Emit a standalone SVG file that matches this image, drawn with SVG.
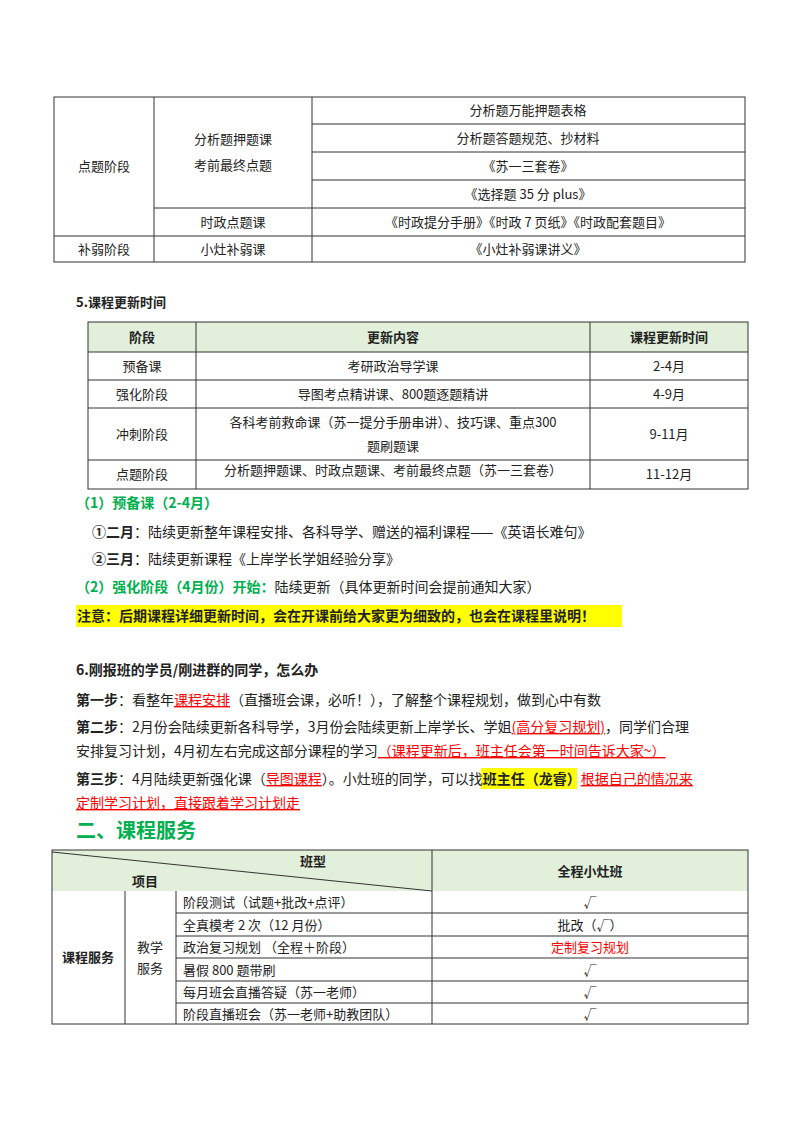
<svg xmlns="http://www.w3.org/2000/svg" width="800" height="1132" viewBox="0 0 800 1132">
<style>
text{font-family:"Noto Sans CJK SC","Liberation Sans",sans-serif;font-size:13px;fill:#222}
.p{font-size:14px}
.c{text-anchor:middle}
.b{font-weight:bold}
.g{fill:#00b050;font-weight:bold}
.r{fill:#ff0000}
.u{text-decoration:underline}
.ln{stroke:#333;stroke-width:1;fill:none}
.hd{fill:#e2efda}
</style>
<rect width="800" height="1132" fill="#fff"/>
<g id="table1">
<rect class="ln" x="54" y="97" width="691" height="165"/>
<path class="ln" d="M154 97V262M312 97V262M312 124H745M312 152H745M312 180H745M154 208H745M54 236H745"/>
<text class="c" x="104" y="171">点题阶段</text>
<text class="c" x="233" y="144">分析题押题课</text>
<text class="c" x="233" y="170">考前最终点题</text>
<text class="c" x="528" y="115">分析题万能押题表格</text>
<text class="c" x="528" y="143">分析题答题规范、抄材料</text>
<text class="c" x="528" y="171">《苏一三套卷》</text>
<text class="c" x="528" y="199">《选择题 35 分 plus》</text>
<text class="c" x="233" y="227">时政点题课</text>
<text class="c" x="528" y="227">《时政提分手册》《时政 7 页纸》《时政配套题目》</text>
<text class="c" x="104" y="254">补弱阶段</text>
<text class="c" x="233" y="254">小灶补弱课</text>
<text class="c" x="528" y="254">《小灶补弱课讲义》</text>
</g>
<text class="b" x="76" y="307">5.课程更新时间</text>
<g id="table2">
<rect class="hd" x="88" y="322" width="660" height="30"/>
<rect class="ln" x="88" y="322" width="660" height="167"/>
<path class="ln" d="M196 322V489M590 322V489M88 352H748M88 380H748M88 408H748M88 460H748"/>
<text class="c b" x="142" y="342">阶段</text>
<text class="c b" x="393" y="342">更新内容</text>
<text class="c b" x="669" y="342">课程更新时间</text>
<text class="c" x="142" y="371">预备课</text>
<text class="c" x="393" y="371">考研政治导学课</text>
<text class="c" x="669" y="371">2-4月</text>
<text class="c" x="142" y="399">强化阶段</text>
<text class="c" x="393" y="399">导图考点精讲课、800题逐题精讲</text>
<text class="c" x="669" y="399">4-9月</text>
<text class="c" x="142" y="439">冲刺阶段</text>
<text class="c" x="393" y="427">各科考前救命课（苏一提分手册串讲）、技巧课、重点300</text>
<text class="c" x="393" y="451">题刷题课</text>
<text class="c" x="669" y="439">9-11月</text>
<text class="c" x="142" y="479">点题阶段</text>
<text class="c" x="393" y="475">分析题押题课、时政点题课、考前最终点题（苏一三套卷）</text>
<text class="c" x="669" y="479">11-12月</text>
</g>
<g id="notes">
<text class="g p" x="76" y="508">（1）预备课（2-4月）</text>
<text class="p" x="92" y="537"><tspan class="b">①二月</tspan>：陆续更新整年课程安排、各科导学、赠送的福利课程——《英语长难句》</text>
<text class="p" x="92" y="564"><tspan class="b">②三月</tspan>：陆续更新课程《上岸学长学姐经验分享》</text>
<text class="p" x="76" y="592"><tspan class="g">（2）强化阶段（4月份）开始：</tspan>陆续更新（具体更新时间会提前通知大家）</text>
<rect x="76" y="605" width="546" height="22" fill="#ffff00"/>
<text class="b p" x="77" y="621">注意：后期课程详细更新时间，会在开课前给大家更为细致的，也会在课程里说明！</text>
</g>
<g id="section6">
<text class="b p" x="76" y="675">6.刚报班的学员/刚进群的同学，怎么办</text>
<text class="p" x="76" y="705"><tspan class="b">第一步</tspan>：看整年<tspan class="r u">课程安排</tspan>（直播班会课，必听！），了解整个课程规划，做到心中有数</text>
<text class="p" x="76" y="732"><tspan class="b">第二步</tspan>：2月份会陆续更新各科导学，3月份会陆续更新上岸学长、学姐<tspan class="r u">(高分复习规划)</tspan>，同学们合理</text>
<text class="p" x="76" y="756">安排复习计划，4月初左右完成这部分课程的学习<tspan class="r u">（课程更新后，班主任会第一时间告诉大家~）</tspan></text>
<rect x="481" y="768" width="96" height="21" fill="#ffff00"/>
<text class="p" x="76" y="784"><tspan class="b">第三步</tspan>：4月陆续更新强化课（<tspan class="r u">导图课程</tspan>）。小灶班的同学，可以找<tspan class="b">班主任（龙睿）</tspan><tspan class="r u">根据自己的情况来</tspan></text>
<text class="r u p" x="76" y="808">定制学习计划，直接跟着学习计划走</text>
</g>
<text class="g" x="76" y="838" style="font-size:20px">二、课程服务</text>
<g id="table3">
<rect class="hd" x="52" y="850" width="696" height="41"/>
<rect class="ln" x="52" y="850" width="696" height="174"/>
<path class="ln" d="M52 852L432 891M432 850V1024M125 891V1024M176 891V1024M176 913H748M176 936H748M176 958H748M176 981H748M176 1003H748"/>
<text class="c b" x="313" y="866">班型</text>
<text class="c b" x="145" y="886">项目</text>
<text class="c b" x="590" y="876">全程小灶班</text>
<text class="c b" x="88" y="962">课程服务</text>
<text class="c" x="150" y="952">教学</text>
<text class="c" x="150" y="973">服务</text>
<text x="183" y="907">阶段测试（试题+批改+点评）</text>
<text x="183" y="930">全真模考 2 次（12 月份）</text>
<text x="183" y="952">政治复习规划 （全程＋阶段）</text>
<text x="183" y="975">暑假 800 题带刷</text>
<text x="183" y="997">每月班会直播答疑（苏一老师）</text>
<text x="183" y="1019">阶段直播班会（苏一老师+助教团队）</text>
<text class="c" x="590" y="907">√</text>
<text class="c" x="590" y="930">批改（√）</text>
<text class="c r" x="590" y="952">定制复习规划</text>
<text class="c" x="590" y="975">√</text>
<text class="c" x="590" y="997">√</text>
<text class="c" x="590" y="1019">√</text>
</g>
</svg>
